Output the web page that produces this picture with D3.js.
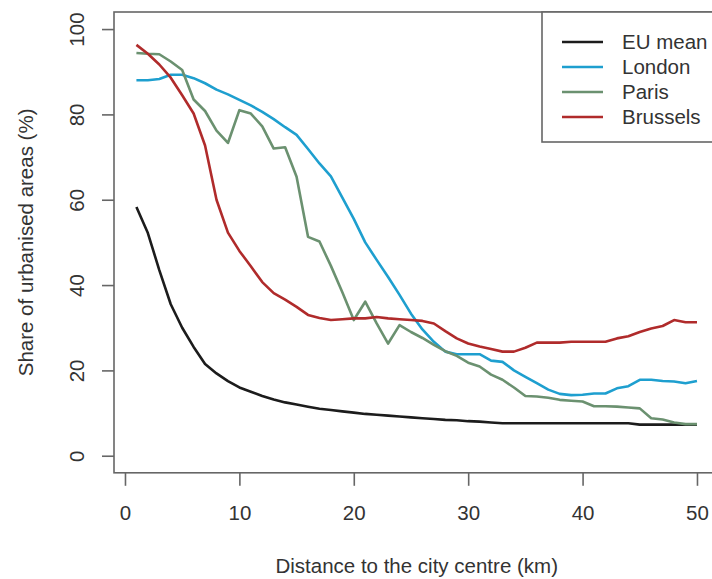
<!DOCTYPE html>
<html>
<head>
<meta charset="utf-8">
<script src="https://cdnjs.cloudflare.com/ajax/libs/d3/7.8.5/d3.min.js"></script>
<style>
  body { margin: 0; background: #fff; }
  text { font-family: "Liberation Sans", Arial, sans-serif; fill: #333; }
</style>
</head>
<body>
<div id="chart-area"></div>
<script>
// Distance to city centre, 1..50 km
var distance = d3.range(1, 51);

var euMean = [58.3, 52.2, 43.5, 35.5, 30, 25.5, 21.5, 19.3, 17.5, 16,
  15, 14, 13.2, 12.5, 12, 11.5, 11, 10.7, 10.4, 10.1,
  9.8, 9.6, 9.4, 9.2, 9, 8.8, 8.6, 8.4, 8.3, 8.1,
  8, 7.8, 7.6, 7.6, 7.6, 7.6, 7.6, 7.6, 7.6, 7.6,
  7.6, 7.6, 7.6, 7.6, 7.3, 7.3, 7.3, 7.3, 7.3, 7.3];

var london = [88, 88, 88.3, 89.3, 89.3, 88.5, 87.3, 85.8, 84.7, 83.4,
  82.1, 80.6, 78.9, 77, 75.2, 71.9, 68.5, 65.5, 60.5, 55.5,
  50, 45.9, 41.9, 37.7, 33.3, 29.6, 26.7, 24.4, 23.8, 23.8,
  23.8, 22.3, 22, 20, 18.5, 17, 15.5, 14.5, 14.2, 14.3,
  14.6, 14.6, 15.8, 16.3, 17.8, 17.8, 17.5, 17.4, 17, 17.5];

var paris = [94.4, 94.2, 94.1, 92.4, 90.4, 83.5, 80.8, 76.2, 73.3, 81,
  80.2, 77.2, 72, 72.3, 65.4, 51.3, 50.2, 44.5, 38.3, 31.8,
  36.1, 31, 26.3, 30.6, 29, 27.6, 26, 24.5, 23.4, 21.8,
  20.9, 19, 17.8, 16, 14, 13.9, 13.6, 13.1, 12.9, 12.7,
  11.6, 11.6, 11.5, 11.3, 11.1, 8.8, 8.5, 7.8, 7.4, 7.4];

var brussels = [96.3, 94.2, 91.7, 88.6, 84.5, 80.2, 72.7, 60, 52.3, 48,
  44.4, 40.7, 38.1, 36.6, 34.9, 33, 32.3, 31.8, 32, 32.2,
  32.2, 32.5, 32.2, 32, 31.8, 31.6, 31, 29.2, 27.5, 26.3,
  25.6, 25, 24.4, 24.4, 25.3, 26.5, 26.5, 26.5, 26.7, 26.7,
  26.7, 26.7, 27.5, 28, 29, 29.8, 30.4, 31.8, 31.3, 31.3];

var seriesNames = ["EU mean", "London", "Paris", "Brussels"];
var seriesValues = [euMean, london, paris, brussels];
var seriesColors = ["#1c1c1c", "#1e9fcf", "#6b9170", "#b02b2b"];

var xTicks = [0, 10, 20, 30, 40, 50];
var yTicks = [0, 20, 40, 60, 80, 100];

var width = 712, height = 579;

var svg = d3.select("#chart-area").append("svg")
  .attr("width", width)
  .attr("height", height);

// Scales (R style 4% padding around xlim 1..50, ylim 0..100)
var x = d3.scaleLinear().domain([1 - 1.96, 50 + 1.96]).range([114, 719.4]);
var y = d3.scaleLinear().domain([-4, 104]).range([472.8, 12]);

// Axes
var xAxis = svg.append("g")
  .attr("transform", "translate(0," + y(-4) + ")")
  .call(d3.axisBottom(x).tickValues(xTicks).tickSize(13).tickPadding(20));

var yAxis = svg.append("g")
  .attr("transform", "translate(" + x(1 - 1.96) + ",0)")
  .call(d3.axisLeft(y).tickValues(yTicks).tickSize(12));

[xAxis, yAxis].forEach(function(a) {
  a.select(".domain").remove();
  a.selectAll("line").attr("stroke", "#666").attr("stroke-width", 1.6);
  a.selectAll("text")
    .attr("font-size", "20.5px")
    .attr("fill", "#333")
    .style("font-family", "'Liberation Sans', Arial, sans-serif");
});

// y tick labels are vertical in base R
yAxis.selectAll(".tick text")
  .attr("x", null).attr("dy", null)
  .attr("text-anchor", "middle")
  .attr("transform", "translate(-30,0) rotate(-90)");

// Plot box
svg.append("rect")
  .attr("x", x(1 - 1.96))
  .attr("y", y(104))
  .attr("width", x(50 + 1.96) - x(1 - 1.96))
  .attr("height", y(-4) - y(104))
  .attr("fill", "none")
  .attr("stroke", "#666")
  .attr("stroke-width", 1.6);

// Lines
var line = d3.line()
  .x(function(d, i) { return x(distance[i]); })
  .y(function(d) { return y(d); });

seriesValues.forEach(function(vals, i) {
  svg.append("path")
    .attr("d", line(vals))
    .attr("fill", "none")
    .attr("stroke", seriesColors[i])
    .attr("stroke-width", 2.6)
    .attr("stroke-linejoin", "round");
});

// Axis titles
svg.append("text")
  .attr("x", (x(1 - 1.96) + x(50 + 1.96)) / 2)
  .attr("y", 573)
  .attr("font-size", "20.5px")
  .attr("text-anchor", "middle")
  .text("Distance to the city centre (km)");

svg.append("text")
  .attr("transform", "rotate(-90)")
  .attr("x", -(y(-4) + y(104)) / 2)
  .attr("y", 33)
  .attr("font-size", "20.5px")
  .attr("text-anchor", "middle")
  .text("Share of urbanised areas (%)");

// Legend (topright)
var legend = svg.append("g");

legend.append("rect")
  .attr("x", 542)
  .attr("y", y(104))
  .attr("width", x(50 + 1.96) - 542)
  .attr("height", 142 - y(104))
  .attr("fill", "#fff")
  .attr("stroke", "#666")
  .attr("stroke-width", 1.6);

seriesNames.forEach(function(name, i) {
  var ly = 42 + i * 25;
  legend.append("line")
    .attr("x1", 562).attr("x2", 603)
    .attr("y1", ly).attr("y2", ly)
    .attr("stroke", seriesColors[i])
    .attr("stroke-width", 2.6);
  legend.append("text")
    .attr("x", 622)
    .attr("y", ly)
    .attr("dy", "0.35em")
    .attr("font-size", "20.5px")
    .text(name);
});
</script>
</body>
</html>
